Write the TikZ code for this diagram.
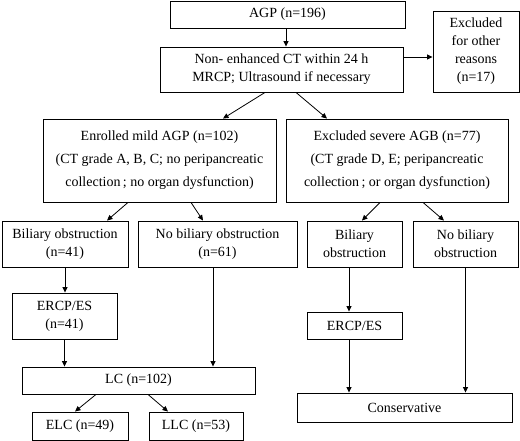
\documentclass[tikz,border=0pt]{standalone}
\usepackage{fontspec}
\setmainfont{Liberation Serif}
\usetikzlibrary{arrows.meta}
\begin{document}
\begin{tikzpicture}[x=1pt,y=-1pt,
  box/.style={draw,line width=0.9pt,rectangle,inner sep=0pt,align=center,
    font=\fontsize{14}{18}\selectfont},
  bigbox/.style={box,font=\fontsize{14}{23}\selectfont},
  arr/.style={line width=0.8pt,-{Triangle[length=5.5pt,width=5pt]}}]
\useasboundingbox (0,0) rectangle (520,441);
\node[box,minimum width=235pt,minimum height=27pt] (agp) at (287.5,14.5) {AGP (n=196)};
\node[box,minimum width=243pt,minimum height=45pt] (ct) at (281.5,69.5) {Non- enhanced CT within 24 h\\MRCP; Ultrasound if necessary};
\node[box,minimum width=86pt,minimum height=81pt] (excl) at (476,51.5) {Excluded\\for other\\reasons\\(n=17)};
\node[bigbox,minimum width=233pt,minimum height=83pt] (mild) at (159.5,160.5) {Enrolled mild AGP (n=102)\\(CT grade A, B, C; no peripancreatic\\collection\,; no organ dysfunction)};
\node[bigbox,minimum width=222pt,minimum height=83pt] (severe) at (397,160.5) {Excluded severe AGB (n=77)\\(CT grade D, E; peripancreatic\\collection\,; or organ dysfunction)};
\node[box,minimum width=126pt,minimum height=46pt] (bo1) at (65,244) {Biliary obstruction\\(n=41)};
\node[box,minimum width=159pt,minimum height=46pt] (nbo1) at (217.5,244) {No biliary obstruction\\(n=61)};
\node[box,minimum width=95pt,minimum height=46pt] (bo2) at (354.5,244) {Biliary\\obstruction};
\node[box,minimum width=105pt,minimum height=46pt] (nbo2) at (465.5,244) {No biliary\\obstruction};
\node[box,minimum width=105pt,minimum height=46pt] (ercp1) at (64.5,316) {ERCP/ES\\(n=41)};
\node[box,minimum width=95pt,minimum height=27pt] (ercp2) at (354.5,325.5) {ERCP/ES};
\node[box,minimum width=233pt,minimum height=27pt] (lc) at (138.5,380.5) {LC (n=102)};
\node[box,minimum width=96pt,minimum height=28pt] (elc) at (80,426) {ELC (n=49)};
\node[box,minimum width=94pt,minimum height=28pt] (llc) at (196,426) {LLC (n=53)};
\node[box,minimum width=215pt,minimum height=29pt] (cons) at (404.5,407.5) {Conservative};
% connectors
\draw[arr] ([xshift=-1.5pt]agp.south) -- ([xshift=-1.5pt]agp.south |- ct.north);
\draw[arr] ([yshift=12.5pt]ct.east) -- ([yshift=12.5pt]ct.east -| excl.west);
\draw[arr] ([xshift=-16.5pt]ct.south) -- ([xshift=63.5pt]mild.north);
\draw[arr] ([xshift=14.5pt]ct.south) -- ([xshift=-70pt]severe.north);
\draw[arr] ([xshift=-31.5pt]mild.south) -- ([xshift=42pt]bo1.north);
\draw[arr] ([xshift=31.5pt]mild.south) -- ([xshift=-14.5pt]nbo1.north);
\draw[arr] ([xshift=-17pt]severe.south) -- ([xshift=7.5pt]bo2.north);
\draw[arr] ([xshift=26pt]severe.south) -- ([xshift=-21.5pt]nbo2.north);
\draw[arr] (bo1.south) -- (bo1.south |- ercp1.north);
\draw[arr] (ercp1.south) -- (ercp1.south |- lc.north);
\draw[arr] ([xshift=-4.5pt]nbo1.south) -- ([xshift=-4.5pt]nbo1.south |- lc.north);
\draw[arr] ([xshift=-5.5pt]bo2.south) -- ([xshift=-5.5pt]bo2.south |- ercp2.north);
\draw[arr] ([xshift=-5.5pt]ercp2.south) -- ([xshift=-5.5pt]ercp2.south |- cons.north);
\draw[arr] (nbo2.south) -- (nbo2.south |- cons.north);
\draw[arr] ([xshift=-42.5pt]lc.south) -- ([xshift=-5pt]elc.north);
\draw[arr] ([xshift=9.5pt]lc.south) -- ([xshift=-28pt]llc.north);
\end{tikzpicture}
\end{document}
